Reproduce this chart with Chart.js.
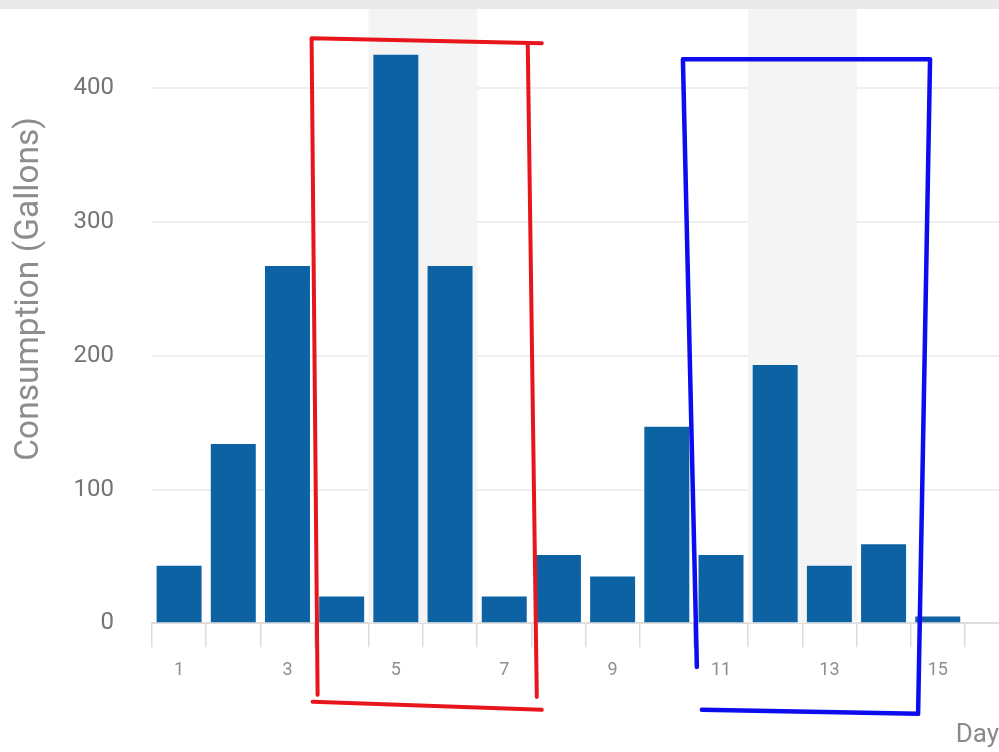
<!DOCTYPE html>
<html>
<head>
<meta charset="utf-8">
<script src="https://cdn.jsdelivr.net/npm/chart.js@4.4.0/dist/chart.umd.min.js"></script>
<style>
  html, body { margin: 0; padding: 0; background: #ffffff; overflow: hidden; width: 999px; height: 752px; }
  #topbar { position: absolute; left: 0; top: 0; width: 999px; height: 9px; background: #e9e9e9; z-index: 2; }
  #wrap { position: absolute; left: 0; top: -98px; width: 999px; height: 850px; }
</style>
</head>
<body>
<div id="topbar"></div>
<div id="wrap"><canvas id="c"></canvas></div>
<script>
// ---- data ----
const days = [1, 2, 3, 4, 5, 6, 7, 8, 9, 10, 11, 12, 13, 14, 15];
const consumption = [43, 134, 267, 20, 425, 267, 20, 51, 35, 147, 51, 193, 43, 59, 5];
const shownDayLabels = [1, 3, 5, 7, 9, 11, 13, 15];
const weekendDays = [5, 6, 12, 13];
const yTicks = [0, 100, 200, 300, 400, 500];
const yTitle = 'Consumption (Gallons)';
const xTitle = 'Day';

// hand-drawn highlight annotations (data units)
const redStrokeLeftTop = [{x: 3.556, y: -53.5}, {x: 3.445, y: 437.3}, {x: 7.693, y: 433.6}];
const redStrokeRight = [{x: 7.434, y: 432.9}, {x: 7.601, y: -55.0}];
const redStrokeBottom = [{x: 3.464, y: -58.7}, {x: 7.693, y: -64.7}];
const blueStroke = [{x: 10.555, y: -32.6}, {x: 10.297, y: 421.7}, {x: 14.858, y: 421.7}, {x: 14.637, y: -67.7}, {x: 10.648, y: -64.7}];

const yMax = yTicks[yTicks.length - 1];

function strokeDataset(points, color, width) {
  return {
    type: 'line',
    data: points,
    borderColor: color,
    borderWidth: width,
    pointRadius: 0,
    tension: 0,
    fill: false,
    clip: false,
    borderJoinStyle: 'round',
    borderCapStyle: 'round',
    order: 0
  };
}

new Chart(document.getElementById('c'), {
  type: 'bar',
  data: {
    datasets: [
      {
        label: 'Consumption',
        data: days.map((d, i) => ({x: d, y: consumption[i]})),
        backgroundColor: '#0d62a4',
        categoryPercentage: 1,
        barPercentage: 0.83,
        order: 1
      },
      {
        label: 'Weekend',
        data: weekendDays.map(d => ({x: d, y: yMax})),
        backgroundColor: '#f4f4f4',
        grouped: false,
        categoryPercentage: 1,
        barPercentage: 1,
        order: 5
      },
      strokeDataset(redStrokeLeftTop, 'rgb(232,22,28)', 4),
      strokeDataset(redStrokeRight, 'rgb(232,22,28)', 4),
      strokeDataset(redStrokeBottom, 'rgb(232,22,28)', 4),
      strokeDataset(blueStroke, 'rgb(12,12,238)', 4.5)
    ]
  },
  options: {
    responsive: true,
    maintainAspectRatio: false,
    animation: false,
    layout: { padding: { top: 23, left: 0, right: 0, bottom: 0 } },
    plugins: { legend: { display: false }, tooltip: { enabled: false } },
    scales: {
      x: {
        type: 'linear',
        min: 0.5,
        max: 16.13,
        offset: false,
        afterBuildTicks: (scale) => { scale.ticks = days.map(d => ({value: d})); },
        afterFit: (scale) => { scale.height = 128.7; },
        ticks: {
          autoSkip: false,
          maxRotation: 0,
          padding: 12,
          color: '#8e8e8e',
          font: { family: 'Roboto', size: 18 },
          callback: (v) => shownDayLabels.includes(v) ? String(v) : ''
        },
        grid: {
          offset: true,
          drawOnChartArea: false,
          drawTicks: true,
          tickLength: 24,
          color: '#dcdcdc',
          lineWidth: 1.5
        },
        border: { display: true, color: '#dddddd', width: 2 },
        title: {
          display: true,
          text: xTitle,
          align: 'end',
          color: '#8a8a8a',
          font: { family: 'Roboto', size: 26 },
          padding: { top: 0, bottom: 1 }
        }
      },
      y: {
        min: 0,
        max: yMax,
        afterBuildTicks: (scale) => { scale.ticks = yTicks.map(v => ({value: v})); },
        afterFit: (scale) => { scale.width = 152; },
        ticks: {
          padding: 38,
          color: '#747474',
          font: { family: 'Roboto', size: 24 }
        },
        grid: {
          drawTicks: false,
          color: '#efefef',
          lineWidth: 2
        },
        border: { display: false },
        title: {
          display: true,
          text: yTitle,
          color: '#8d8d8d',
          font: { family: 'Roboto', size: 33.5 },
          padding: { top: 10, bottom: 0 }
        }
      }
    }
  }
});
</script>
</body>
</html>
